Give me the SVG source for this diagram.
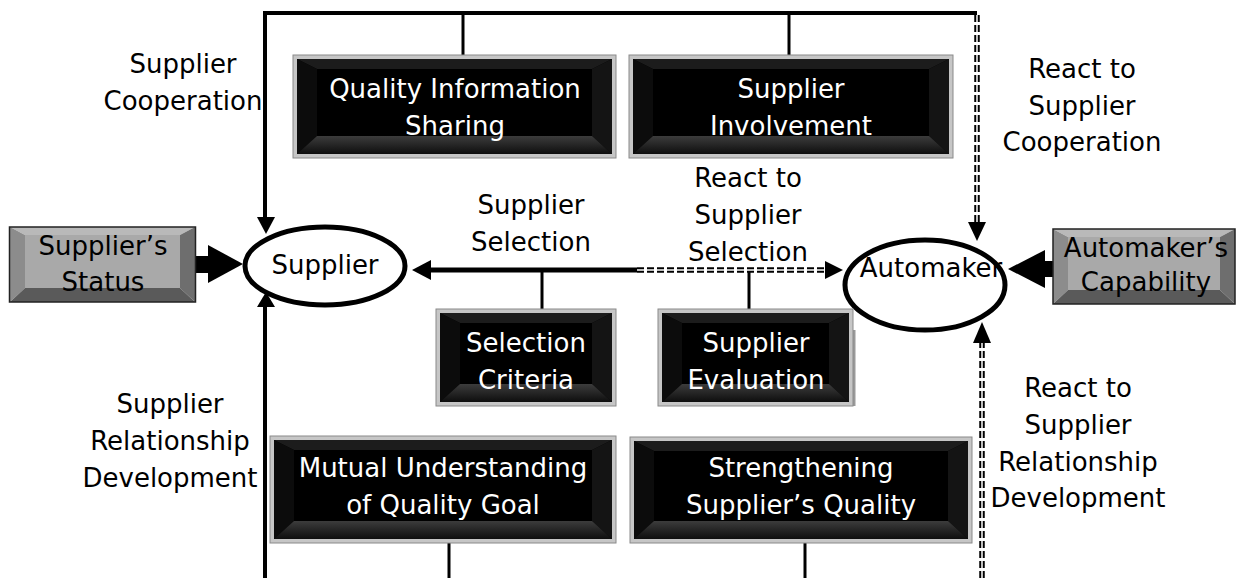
<svg xmlns="http://www.w3.org/2000/svg" width="1236" height="578" viewBox="0 0 1236 578">
<style>
text{font-family:"DejaVu Sans",Verdana,sans-serif;font-size:26px;text-anchor:middle;fill:#000}
.w{fill:#fff}
.bo{fill:#c6c6c6;stroke:#8a8a8a;stroke-width:1}
.bi{fill:#000}
.bt{fill:#1c1c1c}.bl{fill:#0c0c0c}.br{fill:#141414}.bb{fill:url(#botg)}
.gt{fill:#b9b9b9}.gl{fill:#8c8c8c}.gr{fill:#6e6e6e}.gb{fill:#5a5a5a}.gf{fill:#a9a9a9}
.go{fill:none;stroke:#222;stroke-width:1.5}
.ln{stroke:#000;fill:none}
.dd{stroke:#000;stroke-width:5.5;stroke-dasharray:7 3;fill:none}
.dw{stroke:#fff;stroke-width:1.5;fill:none}
.ah{fill:#000}
.el{fill:#fff;stroke:#000;stroke-width:5}
</style>
<defs>
<linearGradient id="botg" x1="0" y1="0" x2="0" y2="1">
<stop offset="0" stop-color="#3c3c3c"/><stop offset="1" stop-color="#0e0e0e"/>
</linearGradient>
</defs>

<g id="connectors">
<path class="ln" stroke-width="4" d="M265 13H977"/>
<path class="ln" stroke-width="4" d="M265 11V219"/>
<polygon class="ah" points="257,217 275,217 266,234"/>
<path class="ln" stroke-width="3" d="M463 13V55"/>
<path class="ln" stroke-width="3" d="M789 13V55"/>
<path class="dd" d="M977 15V224"/><path class="dw" d="M977 15V224"/>
<polygon class="ah" points="968,222 986,222 977,241"/>
<path class="ln" stroke-width="5" d="M428 270H637"/>
<polygon class="ah" points="412,270 431,260 431,280"/>
<path class="dd" d="M637 270H827"/><path class="dw" d="M637 270H827"/>
<polygon class="ah" points="843,270 825,261 825,279"/>
<path class="ln" stroke-width="3" d="M542 270V309"/>
<path class="ln" stroke-width="3" d="M749 272V309"/>
<rect x="195" y="256" width="16" height="17" class="ah"/>
<polygon class="ah" points="208,245 243,264 208,283"/>
<rect x="1043" y="261" width="11" height="16" class="ah"/>
<polygon class="ah" points="1045,250 1008,269 1045,288"/>
<path class="ln" stroke-width="4" d="M265 578V304"/>
<polygon class="ah" points="257,307 275,307 266,292"/>
<path class="dd" d="M982 578V340"/><path class="dw" d="M982 578V340"/>
<polygon class="ah" points="973,343 991,343 982,322"/>
<path class="ln" stroke-width="3" d="M449 543V578"/>
<path class="ln" stroke-width="3" d="M805 543V578"/>
</g>

<g id="labels">
<text x="183" y="73">Supplier</text>
<text x="183" y="110">Cooperation</text>
<text x="1082" y="78">React to</text>
<text x="1082" y="114.5">Supplier</text>
<text x="1082" y="151">Cooperation</text>
<text x="748" y="187">React to</text>
<text x="748" y="224">Supplier</text>
<text x="748" y="261">Selection</text>
<text x="531" y="214">Supplier</text>
<text x="531" y="251">Selection</text>
<text x="170" y="413">Supplier</text>
<text x="170" y="450">Relationship</text>
<text x="170" y="487">Development</text>
<text x="1078" y="397">React to</text>
<text x="1078" y="433.5">Supplier</text>
<text x="1078" y="470.5">Relationship</text>
<text x="1078" y="507">Development</text>
</g>

<g id="supplier-status">
<polygon class="gt" points="10,227 195,227 180,235 25,235"/>
<polygon class="gl" points="10,227 25,235 25,288 10,302"/>
<polygon class="gr" points="195,227 195,302 180,288 180,235"/>
<polygon class="gb" points="10,302 195,302 180,288 25,288"/>
<rect class="gf" x="25" y="235" width="155" height="53"/>
<rect class="go" x="9.5" y="227" width="186" height="75"/>
<text x="103" y="255">Supplier’s</text>
<text x="103" y="291">Status</text>
</g>

<g id="automaker-capability">
<polygon class="gt" points="1053,229 1235,229 1220,237 1068,237"/>
<polygon class="gl" points="1053,229 1068,237 1068,290 1053,304"/>
<polygon class="gr" points="1235,229 1235,304 1220,290 1220,237"/>
<polygon class="gb" points="1053,304 1235,304 1220,290 1068,290"/>
<rect class="gf" x="1068" y="237" width="152" height="53"/>
<rect class="go" x="1053" y="229" width="182" height="75"/>
<text x="1146" y="257">Automaker’s</text>
<text x="1146" y="291">Capability</text>
</g>

<g id="supplier">
<ellipse class="el" cx="325" cy="266" rx="80" ry="39"/>
<text x="325" y="274">Supplier</text>
</g>

<g id="automaker">
<ellipse class="el" cx="925" cy="285" rx="80" ry="45"/>
<text x="931" y="277">Automaker</text>
</g>

<g id="quality-information-sharing">
<rect class="bo" x="293" y="55" width="323" height="103"/>
<rect class="bi" x="297" y="59" width="315" height="95"/>
<polygon class="bt" points="297,59 612,59 592,69 317,69"/>
<polygon class="bl" points="297,59 317,69 317,136 297,154"/>
<polygon class="br" points="612,59 612,154 592,136 592,69"/>
<polygon class="bb" points="297,154 612,154 592,136 317,136"/>
<text class="w" x="455" y="98">Quality Information</text>
<text class="w" x="455" y="135">Sharing</text>
</g>

<g id="supplier-involvement">
<rect class="bo" x="629" y="55" width="324" height="103"/>
<rect class="bi" x="633" y="59" width="316" height="95"/>
<polygon class="bt" points="633,59 949,59 929,69 653,69"/>
<polygon class="bl" points="633,59 653,69 653,136 633,154"/>
<polygon class="br" points="949,59 949,154 929,136 929,69"/>
<polygon class="bb" points="633,154 949,154 929,136 653,136"/>
<text class="w" x="791" y="98">Supplier</text>
<text class="w" x="791" y="135">Involvement</text>
</g>

<g id="selection-criteria">
<rect class="bo" x="436" y="309" width="180" height="97"/>
<rect class="bi" x="440" y="313" width="172" height="89"/>
<polygon class="bt" points="440,313 612,313 592,323 460,323"/>
<polygon class="bl" points="440,313 460,323 460,384 440,402"/>
<polygon class="br" points="612,313 612,402 592,384 592,323"/>
<polygon class="bb" points="440,402 612,402 592,384 460,384"/>
<text class="w" x="526" y="352">Selection</text>
<text class="w" x="526" y="389">Criteria</text>
</g>

<g id="supplier-evaluation">
<rect x="853" y="330" width="2.5" height="76" fill="#9a9a9a"/>
<rect class="bo" x="658" y="309" width="195" height="97"/>
<rect class="bi" x="662" y="313" width="187" height="89"/>
<polygon class="bt" points="662,313 849,313 829,323 682,323"/>
<polygon class="bl" points="662,313 682,323 682,384 662,402"/>
<polygon class="br" points="849,313 849,402 829,384 829,323"/>
<polygon class="bb" points="662,402 849,402 829,384 682,384"/>
<text class="w" x="756" y="352">Supplier</text>
<text class="w" x="756" y="389">Evaluation</text>
</g>

<g id="mutual-understanding">
<rect class="bo" x="270" y="436" width="346" height="107"/>
<rect class="bi" x="274" y="440" width="338" height="99"/>
<polygon class="bt" points="274,440 612,440 592,450 294,450"/>
<polygon class="bl" points="274,440 294,450 294,521 274,539"/>
<polygon class="br" points="612,440 612,539 592,521 592,450"/>
<polygon class="bb" points="274,539 612,539 592,521 294,521"/>
<text class="w" x="443" y="477">Mutual Understanding</text>
<text class="w" x="443" y="514">of Quality Goal</text>
</g>

<g id="strengthening-quality">
<rect class="bo" x="630" y="437" width="342" height="106"/>
<rect class="bi" x="634" y="441" width="334" height="98"/>
<polygon class="bt" points="634,441 968,441 948,451 654,451"/>
<polygon class="bl" points="634,441 654,451 654,521 634,539"/>
<polygon class="br" points="968,441 968,539 948,521 948,451"/>
<polygon class="bb" points="634,539 968,539 948,521 654,521"/>
<text class="w" x="801" y="477">Strengthening</text>
<text class="w" x="801" y="514">Supplier’s Quality</text>
</g>
</svg>
